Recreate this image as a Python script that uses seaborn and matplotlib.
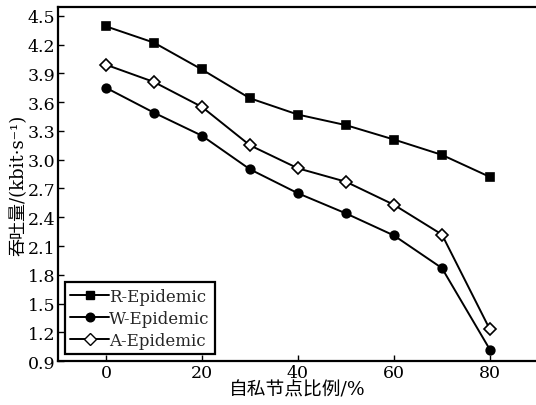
import matplotlib
matplotlib.use("Agg")
import matplotlib.pyplot as plt
import seaborn as sns
import pandas as pd
from matplotlib.lines import Line2D

ratio = [0, 10, 20, 30, 40, 50, 60, 70, 80]
r_epidemic = [4.39, 4.22, 3.94, 3.64, 3.47, 3.36, 3.21, 3.05, 2.82]
w_epidemic = [3.75, 3.49, 3.25, 2.90, 2.65, 2.44, 2.21, 1.87, 1.02]
a_epidemic = [3.99, 3.81, 3.55, 3.15, 2.91, 2.77, 2.53, 2.22, 1.23]
series_names = ["R-Epidemic", "W-Epidemic", "A-Epidemic"]
x_ticks = [0, 20, 40, 60, 80]
y_ticks = [0.9, 1.2, 1.5, 1.8, 2.1, 2.4, 2.7, 3.0, 3.3, 3.6, 3.9, 4.2, 4.5]

df = pd.concat([
    pd.DataFrame({"x": ratio, "y": vals, "s": name})
    for name, vals in zip(series_names, [r_epidemic, w_epidemic, a_epidemic])
])

sns.set_theme(style="white")
plt.rcParams['font.family'] = ['DejaVu Serif', 'Noto Sans CJK SC', 'DejaVu Sans']

fig = plt.figure(figsize=(5.36, 4.06), dpi=100)
ax = fig.add_axes([0.108, 0.108, 0.892, 0.872])

markers = {"R-Epidemic": "s", "W-Epidemic": "o", "A-Epidemic": "D"}
sns.lineplot(data=df, x="x", y="y", hue="s", style="s", markers=markers,
             dashes=False, palette=["black"] * 3, ax=ax, linewidth=1.4,
             markersize=6.2, markeredgecolor="black", markeredgewidth=1.2,
             legend=False)
for line in ax.lines:
    if line.get_marker() == "D":
        line.set_markerfacecolor("white")
        line.set_markersize(6)

handles = [
    Line2D([], [], color="black", marker="s", markersize=6.2, lw=1.4),
    Line2D([], [], color="black", marker="o", markersize=6.2, lw=1.4),
    Line2D([], [], color="black", marker="D", markersize=6, lw=1.4,
           markerfacecolor="white", markeredgecolor="black"),
]
leg = ax.legend(handles, series_names, loc="lower left", bbox_to_anchor=(0.0, 0.0),
                fontsize=12, frameon=True, fancybox=False, framealpha=1,
                edgecolor="black", handlelength=2.3, handletextpad=0.0,
                borderpad=0.35, labelspacing=0.3, borderaxespad=0.4)
leg.get_frame().set_linewidth(1.6)

ax.set_xlim(-10, 89.6)
ax.set_ylim(0.9, 4.59)
ax.set_xticks(x_ticks)
ax.set_yticks(y_ticks)
ax.set_yticklabels([f"{v:.1f}" for v in y_ticks])
ax.tick_params(direction="in", length=4, width=1, labelsize=12.5, colors="black",
               left=True, bottom=True, pad=2)
for side in ["left", "bottom", "top"]:
    ax.spines[side].set_color("black")
    ax.spines[side].set_linewidth(1.6)
ax.spines["right"].set_visible(False)

ax.set_xlabel("自私节点比例/%", fontsize=13.5, labelpad=0, color="black")
ax.set_ylabel("吞吐量/(kbit·s⁻¹)", fontsize=13, labelpad=0, color="black")

fig.savefig("out.png", dpi=100)
